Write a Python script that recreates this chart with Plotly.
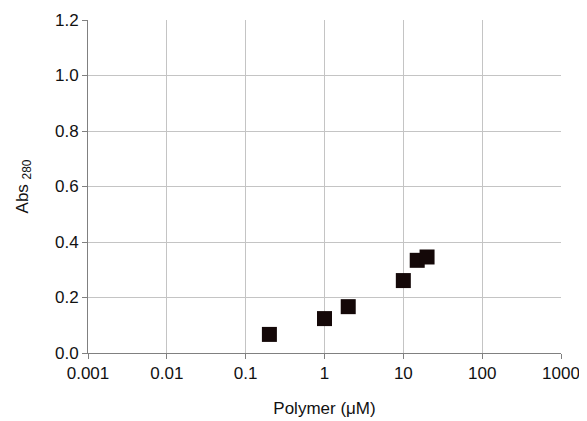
import plotly.graph_objects as go

polymer_uM = [0.2, 1, 2, 10, 15, 20]
abs_280 = [0.067, 0.124, 0.167, 0.261, 0.334, 0.346]

x_tick_vals = [0.001, 0.01, 0.1, 1, 10, 100, 1000]
x_tick_text = ["0.001", "0.01", "0.1", "1", "10", "100", "1000"]
y_tick_vals = [0.0, 0.2, 0.4, 0.6, 0.8, 1.0, 1.2]
y_tick_text = ["0.0", "0.2", "0.4", "0.6", "0.8", "1.0", "1.2"]

fig = go.Figure()
fig.add_trace(go.Scatter(
    x=polymer_uM, y=abs_280, mode="markers",
    marker=dict(symbol="square", size=15, color="#140808",
                line=dict(width=0)),
    showlegend=False, cliponaxis=False,
))

font = dict(family="Liberation Sans, Arial, sans-serif", size=17, color="#111111")

fig.update_layout(
    width=579, height=413,
    margin=dict(l=80, r=26, t=12, b=68, autoexpand=False),
    paper_bgcolor="white", plot_bgcolor="white",
    font=font,
)
fig.update_xaxes(
    type="log", range=[-3, 3],
    tickvals=x_tick_vals, ticktext=x_tick_text,
    showgrid=True, gridcolor="#c4c4c4", gridwidth=1,
    showline=True, linecolor="#808080", linewidth=1,
    ticks="outside", ticklen=5, tickcolor="#808080",
    zeroline=False, mirror=False, automargin=False,
    title=dict(text="Polymer (μM)", font=font, standoff=19),
)
fig.update_yaxes(
    range=[0, 1.2],
    tickvals=y_tick_vals, ticktext=y_tick_text,
    showgrid=True, gridcolor="#c4c4c4", gridwidth=1,
    showline=True, linecolor="#808080", linewidth=1,
    ticks="outside", ticklen=5, tickcolor="#808080",
    zeroline=False, automargin=False,
    title=dict(text="Abs <sub style='font-size:16px'>280</sub>", font=font, standoff=22),
)

fig.write_html("out.html")
